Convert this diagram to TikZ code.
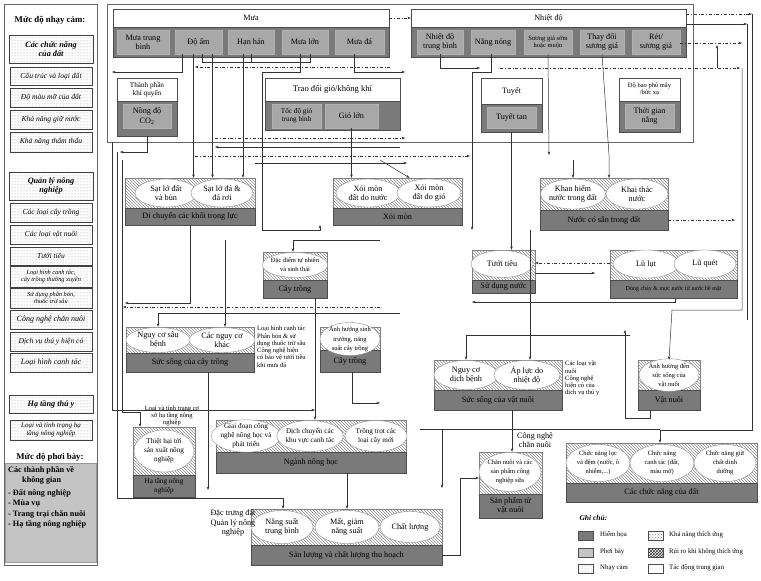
\documentclass[tikz,border=0pt]{standalone}
\usepackage{fontspec}
\setmainfont{Liberation Serif}
\usetikzlibrary{shapes.geometric,patterns,arrows.meta}
\definecolor{hzc}{HTML}{7A7A7A}
\definecolor{exc}{HTML}{C4C4C4}
\definecolor{subc}{HTML}{A8A8A8}
\newcommand\bx[7]{\node[#6,minimum width={#4-#2},minimum height={#5-#3},inner sep=0pt,align=center] (#1) at ({(#2+#4)/2},{(#3+#5)/2}) {#7};}
\newcommand\elx[6]{\node[elx,minimum width=#4,minimum height=#5] (#1) at (#2,#3) {#6};}
\newcommand\cb[7]{\bx{#1h}{#2}{#3}{#4}{#5}{hat}{}\bx{#1}{#2}{#5}{#4}{#6}{hz}{#7}}
\newcommand\fs{\fontsize{6.5}{7.3}\selectfont}
\newcommand\fm{\fontsize{7.2}{8.2}\selectfont}
\begin{document}
\begin{tikzpicture}[x=1pt,y=-1pt,font=\fontsize{8.2}{9.2}\selectfont,
 hz/.style={draw=black!70,fill=hzc},
 wh/.style={draw=black!70,fill=white},
 sb/.style={draw=black!30,fill=subc},
 hat/.style={draw=black!50,pattern=north west lines,pattern color=black!45},
 sens/.style={draw=black!75,pattern=dots,pattern color=black!40,font=\fontsize{7.6}{8.6}\selectfont\itshape},
 elx/.style={ellipse,draw=black!45,fill=white,inner sep=-1pt,align=center},
 ar/.style={-{Stealth[length=3.5pt,width=2.6pt]},draw=black!80,line width=0.5pt},
 dd/.style={ar,dash dot},
 ln/.style={draw=black!80,line width=0.5pt},
 tx/.style={align=left,inner sep=0pt,font=\fontsize{6.8}{8}\selectfont}]
\path[fill=white] (0,0) rectangle (761,581);
% ---------- left panel
\bx{lp}{4}{4}{97}{565}{draw=black!60}{}
\node[font=\fontsize{8.8}{10}\selectfont\bfseries] (t1) at (50,20) {Mức độ nhạy cảm:};
\bx{s0}{9}{35}{93}{63}{sens,font=\fontsize{8.2}{9.5}\selectfont\bfseries\itshape}{Các chức năng\\của đất}
\bx{s1}{10}{67}{92}{85}{sens}{Cấu trúc và loại đất}
\bx{s2}{10}{88}{92}{107}{sens}{Độ màu mỡ của đất}
\bx{s3}{10}{110}{92}{129}{sens}{Khả năng giữ nước}
\bx{s4}{10}{132}{92}{152}{sens}{Khả năng thấm thấu}
\bx{q0}{9}{172}{93}{200}{sens,font=\fontsize{8.2}{9.5}\selectfont\bfseries\itshape}{Quản lý nông\\nghiệp}
\bx{q1}{10}{203}{92}{222}{sens}{Các loại cây trồng}
\bx{q2}{10}{225}{92}{244}{sens}{Các loại vật nuôi}
\bx{q3}{10}{247}{92}{265}{sens}{Tưới tiêu}
\bx{q4}{10}{266}{92}{287}{sens,font=\fontsize{6.3}{7.2}\selectfont\itshape}{Loại hình canh tác,\\cây trồng thường xuyên}
\bx{q5}{10}{288}{92}{308}{sens,font=\fontsize{6.3}{7.2}\selectfont\itshape}{Sử dụng phân bón,\\thuốc trừ sâu}
\bx{q6}{10}{310}{92}{329}{sens,font=\fontsize{8}{9}\selectfont\itshape}{Công nghệ chăn nuôi}
\bx{q7}{10}{332}{92}{351}{sens}{Dịch vụ thú y hiện có}
\bx{q8}{10}{353}{92}{372}{sens,font=\fontsize{8}{9}\selectfont\itshape}{Loại hình canh tác}
\bx{h0}{9}{395}{93}{413}{sens,font=\fontsize{8.2}{9.5}\selectfont\bfseries\itshape}{Hạ tầng thú y}
\bx{h1}{10}{420}{92}{440}{sens,font=\fontsize{7}{8}\selectfont\itshape}{Loại và tình trạng hạ\\tầng nông nghiệp}
\node[font=\fontsize{8.8}{10}\selectfont\bfseries] (t2) at (50,457) {Mức độ phơi bày:};
\bx{ex}{5}{463}{96}{562}{fill=exc,draw=black!40}{}
\node[align=left,anchor=north west,inner sep=0pt,font=\fontsize{8.2}{10.5}\selectfont\bfseries] (ext) at (8,466) {Các thành phần về\\\hspace*{14pt}không gian\\[2pt]- Đất nông nghiệp\\- Mùa vụ\\- Trang trại chăn nuôi\\- Hạ tầng nông nghiệp};
% ---------- top frame
\bx{frame}{107}{4}{693}{142}{draw=black!60}{}
\bx{mua}{113}{9}{389}{27}{wh}{Mưa}
\bx{muab}{113}{27}{389}{57}{hz}{}
\bx{mtb}{117}{30}{169}{54}{sb}{Mưa trung\\bình}
\bx{doam}{175}{30}{222}{54}{sb}{Độ ẩm}
\bx{hanhan}{228}{30}{274}{54}{sb}{Hạn hán}
\bx{mualon}{282}{30}{328}{54}{sb}{Mưa lớn}
\bx{muada}{335}{30}{384}{54}{sb}{Mưa đá}
\bx{nhiet}{411}{9}{686}{27}{wh}{Nhiệt độ}
\bx{nhietb}{411}{27}{686}{57}{hz}{}
\bx{ntb}{417}{30}{463}{54}{sb}{Nhiệt độ\\trung bình}
\bx{nangnong}{471}{30}{515}{54}{sb}{Nắng nóng}
\bx{suonggia}{524}{30}{572}{54}{sb,font=\fs}{Sương giá sớm\\hoặc muộn}
\bx{thaydoi}{580}{30}{624}{54}{sb}{Thay đổi\\sương giá}
\bx{ret}{632}{30}{680}{54}{sb}{Rét/\\sương giá}
\bx{kq}{117}{78}{177}{101}{wh,font=\fm}{Thành phần\\khí quyển}
\bx{kqb}{117}{101}{177}{136}{hz}{}
\bx{co2}{123}{104}{171}{128}{sb}{Nồng độ\\CO\textsubscript{2}}
\bx{gio}{265}{78}{400}{101}{wh,font=\fontsize{8.6}{10}\selectfont}{Trao đổi gió/không khí}
\bx{giob}{265}{101}{400}{130}{hz}{}
\bx{giotb}{272}{104}{321}{128}{sb,font=\fm}{Tốc độ gió\\trung bình}
\bx{giolon}{325}{104}{378}{128}{sb}{Gió lớn}
\bx{tuyet}{481}{78}{542}{104}{wh}{Tuyết}
\bx{tuyetb}{481}{104}{542}{132}{hz}{}
\bx{tuyettan}{487}{107}{536}{128}{sb}{Tuyết tan}
\bx{may}{619}{78}{680}{101}{wh,font=\fs}{Độ bao phủ mây\\/bức xạ}
\bx{mayb}{619}{101}{680}{132}{hz}{}
\bx{nang}{625}{104}{674}{128}{sb}{Thời gian\\nắng}
% ---------- composite boxes
\cb{dichuyen}{125}{178}{255}{208}{225}{Di chuyển các khối trọng lực}
\elx{e1}{166}{193}{62}{28}{Sạt lở đất\\và bùn}
\elx{e2}{222}{193}{62}{28}{Sạt lở đá \&\\đá rơi}
\cb{xoimon}{333}{178}{462}{208}{225}{Xói mòn}
\elx{e3}{368}{193}{64}{28}{Xói mòn\\đất do nước}
\elx{e4}{429}{193}{64}{28}{Xói mòn\\đất do gió}
\cb{nuoc}{540}{178}{668}{210}{230}{Nước có sẵn trong đất}
\elx{e5}{573}{194}{64}{30}{Khan hiếm\\nước trong đất}
\elx{e6}{637}{194}{62}{30}{Khai thác\\nước}
\cb{caytrong}{263}{252}{327}{280}{298}{Cây trồng}
\elx{e7}{295}{265}{62}{25}{\fs Đặc điểm tự nhiên\\\fs và sinh thái}
\cb{sdnuoc}{472}{250}{535}{280}{293}{Sử dụng nước}
\elx{e8}{502}{264}{62}{27}{Tưới tiêu}
\cb{dongchay}{610}{250}{737}{280}{298}{\fontsize{6}{7}\selectfont Dòng chảy \& mực nước từ nước bề mặt}
\elx{e9}{646}{264}{66}{28}{Lũ lụt}
\elx{e10}{705}{264}{62}{28}{Lũ quét}
\cb{sscay}{126}{327}{254}{353}{372}{Sức sống của cây trồng}
\elx{e11}{158}{340}{64}{25}{Nguy cơ sâu\\bệnh}
\elx{e12}{222}{340}{66}{25}{Các nguy cơ\\khác}
\node[tx,anchor=north west,font=\fs] (tcay) at (257,326) {Loại hình canh tác\\Phân bón \& sử\\dụng thuốc trừ sâu\\Công nghệ hiện\\có bảo vệ tưới tiêu\\khi mưa đá};
\cb{caytrong2}{320}{327}{380}{350}{372}{Cây trồng}
\elx{e13}{350}{339}{60}{22}{\fs Ảnh hưởng sinh\\\fs trưởng, năng\\\fs suất cây trồng}
\cb{ssvat}{434}{360}{562}{390}{410}{Sức sống của vật nuôi}
\elx{e14}{466}{375}{64}{29}{Nguy cơ\\dịch bệnh}
\elx{e15}{527}{375}{66}{29}{Áp lực do\\nhiệt độ}
\node[tx,anchor=north west,font=\fs] (tvat) at (565,361) {Các loại vật\\nuôi\\Công nghệ\\hiện có của\\dịch vụ thú y};
\cb{vatnuoi}{638}{360}{700}{390}{410}{Vật nuôi}
\elx{e16}{669}{375}{60}{28}{\fs Ảnh hưởng đến\\\fs sức sống của\\\fs vật nuôi}
\cb{hatang}{133}{427}{195}{475}{497}{\fm Hạ tầng nông\\\fm nghiệp}
\elx{e17}{164}{451}{60}{42}{\fm Thiệt hại tới\\\fm sản xuất nông\\\fm nghiệp}
\node[tx,align=center,font=\fs] (tht) at (172,416) {Loại và tình trạng cơ\\sở hạ tầng nông\\nghiệp};
\cb{nonghoc}{216}{420}{406}{452}{473}{Ngành nông học}
\elx{e18}{246}{436}{60}{31}{\fm Giai đoạn công\\\fm nghệ nông học và\\\fm phát triển}
\elx{e19}{310}{436}{64}{31}{\fm Dịch chuyển các\\\fm khu vực canh tác}
\elx{e20}{376}{436}{62}{31}{\fm Trồng trọt các\\\fm loại cây mới}
\cb{sanluong}{251}{509}{442}{545}{565}{Sản lượng và chất lượng thu hoạch}
\elx{e21}{282}{527}{62}{33}{Năng suất\\trung bình}
\elx{e22}{347}{527}{64}{33}{Mất, giảm\\năng suất}
\elx{e23}{410}{527}{60}{31}{Chất lượng}
\node[align=center,inner sep=0pt] (tsl) at (233,523) {Đặc trưng đất\\Quản lý nông\\nghiệp};
\cb{sanpham}{479}{452}{542}{494}{518}{Sản phẩm từ\\vật nuôi}
\elx{e24}{510}{472}{62}{39}{\fs Chăn nuôi và các\\\fs sản phẩm công\\\fs nghiệp sữa}
\node[align=center,inner sep=0pt] (tcn) at (535,440) {Công nghệ\\chăn nuôi};
\cb{cndat}{566}{443}{757}{483}{502}{Các chức năng của đất}
\elx{e25}{598}{463}{64}{37}{\fs Chức năng lọc\\\fs và đệm (nước, ô\\\fs nhiễm,...)}
\elx{e26}{662}{463}{64}{37}{\fs Chức năng\\\fs canh tác (đất,\\\fs màu mỡ)}
\elx{e27}{725}{463}{62}{37}{\fs Chức năng giữ\\\fs chất dinh\\\fs dưỡng}
% ---------- legend
\node[anchor=west,font=\fontsize{7.5}{9}\selectfont\bfseries\itshape] (gc) at (576,518) {Ghi chú:};
\bx{l1}{578}{531}{593}{540}{hz}{}\node[tx,anchor=west] (l1t) at (600,535) {Hiểm họa};
\bx{l2}{578}{548}{593}{557}{fill=exc,draw=black!70}{}\node[tx,anchor=west] (l2t) at (600,552) {Phơi bày};
\bx{l3}{578}{564}{593}{573}{draw=black!70,pattern=dots,pattern color=black!45}{}\node[tx,anchor=west] (l3t) at (600,568) {Nhạy cảm};
\bx{l4}{648}{531}{663}{540}{draw=black!70,pattern=crosshatch dots,pattern color=black!50}{}\node[tx,anchor=west] (l4t) at (669,535) {Khả năng thích ứng};
\bx{l5}{648}{548}{663}{557}{draw=black!70,pattern=crosshatch,pattern color=black!80}{}\node[tx,anchor=west] (l5t) at (669,552) {Rủi ro khi không thích ứng};
\bx{l6}{648}{564}{663}{573}{wh}{}\node[tx,anchor=west] (l6t) at (669,568) {Tác động trung gian};
% ---------- connectors
\draw[dd] (mua.east) -- (nhiet.west);
\draw[ar] ([xshift=-5pt]doam.south) -- ([xshift=-5pt]doam.south |- dichuyenh.north);
\draw[ar] ([xshift=14pt]doam.south) -- ([xshift=14pt]doam.south |- dichuyenh.north);
\draw[ar] ([xshift=-8pt]hanhan.south) -- ([xshift=-8pt]hanhan.south |- dichuyenh.north);
\draw[ar] ([xshift=-16pt]doam.south) |- (112,72);
\draw[ln] ([xshift=4pt]doam.south) |- (310,62) -- (mualon.south -| 310,0);
\draw[ln] (hanhan.south) -- (251,62);
\draw[dd] (390,67) -- (195,67);
\draw[ar] ([xshift=-5pt]mualon.south) |- (262,72) -- (262,230) -- (320,230) -- (320,225);
\draw[ar] ([xshift=-5pt]muada.south) |- (405,72);
\draw[ar] (co2.south |- kqb.south) |- (120,152);
\draw[ar] (giolon.south) -- (giolon.south |- xoimonh.north);
\draw[dd] (215,138) -- (405,138);
\draw[ar] (400,147) -- (215,147);
\draw[dd] (195,156) -- (470,156);
\draw[ar] (255,163) -- (407,163);
\draw[ar] ([xshift=12pt]e3.north |- 0,160) -- ([xshift=12pt]xoimonh.north);
\draw[ar] (tuyettan.south |- tuyetb.south) -- (tuyettan.south |- sdnuoch.north);
\draw[ar] (suonggia.south) -- (549,155);
\draw[ar] (thaydoi.south) -- (609,155) -- (609,178);
\draw[ar] (573,160) -- (573,178);
\draw[ar] (ntb.south) |- (480,68);
\draw[ar] ([xshift=-2pt]nangnong.south) |- (472,72) -- (472,230);
\draw[dd] (500,68) -- (740,68);
\draw[ar] (717,68) -- (717,45);
\draw[dd] (686,14) -- (752,14);
\draw[ar] (686,24) -- (747,24);
\draw[dd] (ret.east |- 0,43) -- (742,43);
\draw[ar] (742,68) -- (742,310) -- (672,310) -- (vatnuoih.north);
\draw[ln] (747,24) -- (747,320);
\draw[ar] (752,14) -- (752,430) -- (660,430) -- (cndath.north -| 660,0);
\draw[dd] (nuoc.east) -- (735,220);
\draw[ar] (112,142) -- (112,410) -- (315,410);
\draw[ar] (117,152) -- (117,498) -- (283,498) -- (sanluongh.north -| 283,0);
\draw[ar] (122,160) -- (122,412) -- (140,412) -- (hatangh.north -| 140,0);
\draw[ar] (dichuyen.south -| 190,0) -- (190,303) -- (125,303);
\draw[dd] (380,307) -- (123,307);
\draw[ar] (380,240) -- (293,240) -- (caytrongh.north -| 293,0);
\draw[ar] (caytrong.south -| 315,0) -- (nonghoch.north -| 315,0);
\draw[ar] (400,313) -- (158,313) -- (sscayh.north -| 158,0);
\draw[ar] (225,240) -- (sscayh.north -| 225,0);
\draw[ar] (sscay.south -| 208,0) -- (208,490);
\draw[ar] (caytrong2.south -| 352,0) -- (352,403) -- (380,403);
\draw[dd] (dongchayh.west |- 0,263) -- (sdnuoch.east |- 0,263);
\draw[ar] (sdnuoch.east |- 0,273) -- (595,273);
\draw[ar] (dongchay.south -| 675,0) -- (675,302) -- (472,302);
\draw[ar] (630,335) -- (466,335) -- (ssvath.north -| 466,0);
\draw[ar] (530,230) -- (ssvath.north -| 530,0);
\draw[ar] (ssvat.south -| 512,0) -- (sanphamh.north -| 512,0);
\draw[ar] (sanluong.east |- 0,555) -- (460,555) -- (460,478) -- (sanphamh.west |- 0,478);
\draw[ar] (nonghoc.south -| 347,0) -- (sanluongh.north -| 347,0);
\draw[ln] (420,429) -- (660,429);
\draw[ar] (442,429) -- (442,488);
\draw[ar] (vatnuoi.south -| 650,0) -- (650,418) -- (625,418) -- (625,330);
\end{tikzpicture}
\end{document}
